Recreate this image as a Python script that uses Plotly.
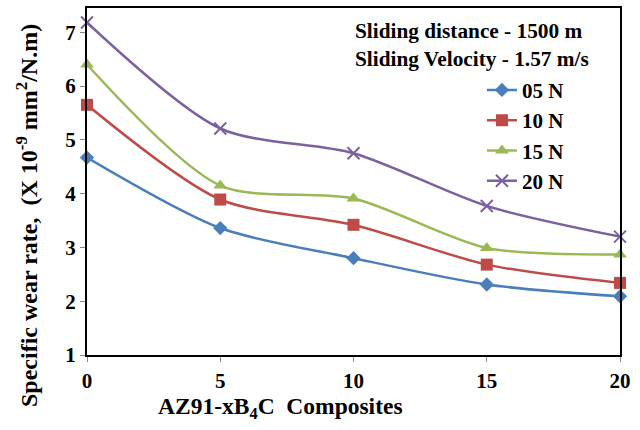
import plotly.graph_objects as go

composites = [0, 5, 10, 15, 20]
load_05N = [4.67, 3.36, 2.80, 2.31, 2.09]
load_10N = [5.65, 3.89, 3.42, 2.68, 2.34]
load_15N = [6.40, 4.15, 3.91, 2.99, 2.87]
load_20N = [7.18, 5.21, 4.75, 3.77, 3.20]
series_names = ["05 N", "10 N", "15 N", "20 N"]
y_ticks = [1, 2, 3, 4, 5, 6, 7]
x_ticks = [0, 5, 10, 15, 20]

colors = ["#4A7EBB", "#BE4B48", "#98B954", "#7D60A0"]
symbols = ["diamond", "square", "triangle-up", "x-thin-open"]
sizes = [11, 12, 12, 12]

FF = "Liberation Serif"

fig = go.Figure()
for i, (name, vals) in enumerate(zip(series_names, [load_05N, load_10N, load_15N, load_20N])):
    fig.add_trace(go.Scatter(
        x=composites, y=vals, name=name, mode="lines+markers",
        line=dict(color=colors[i], width=2.5, shape="spline", smoothing=0.8),
        marker=dict(symbol=symbols[i], size=sizes[i], color=colors[i],
                    line=dict(color=colors[i], width=2 if i == 3 else 0)),
        cliponaxis=False, legendgroup=name,
    ))

tickfont = dict(size=21, family=FF, weight="bold", color="black")
fig.update_layout(
    width=640, height=430,
    margin=dict(l=87, r=20, t=8, b=75, autoexpand=False),
    paper_bgcolor="white", plot_bgcolor="white",
    font=dict(family=FF, size=20, color="black"),
    showlegend=True,
    legend=dict(x=0.741, y=0.822, xanchor="left", yanchor="top",
                bgcolor="rgba(0,0,0,0)", font=dict(size=21, family=FF, weight="bold"),
                traceorder="grouped", tracegroupgap=0, itemwidth=30),
    xaxis=dict(range=[0, 20], tickvals=x_ticks, showgrid=False, zeroline=False,
               showline=True, linecolor="black", linewidth=2, mirror=True,
               ticks="outside", ticklen=5, tickcolor="#888888", automargin=False,
               ticklabelstandoff=1, tickfont=tickfont),
    yaxis=dict(range=[1, 7.45], tickvals=y_ticks, showgrid=False, zeroline=False,
               showline=True, linecolor="black", linewidth=2, mirror=True,
               ticks="outside", ticklen=5, tickcolor="#888888", automargin=False,
               tickfont=tickfont),
)

fig.add_annotation(x=(280 - 87) / 533, y=-(408 - 355) / 347, xref="paper", yref="paper",
                   xanchor="center", yanchor="middle", showarrow=False,
                   text="AZ91-xB<sub>4</sub>C  Composites",
                   font=dict(size=23.5, family=FF, weight="bold"))
fig.add_annotation(x=(27 - 87) / 533, y=(355 - 216) / 347, xref="paper", yref="paper",
                   xanchor="center", yanchor="middle", showarrow=False, textangle=-90,
                   text="Specific wear rate,  (X 10<sup>-9</sup> mm<sup>2</sup>/N.m)",
                   font=dict(size=24, family=FF, weight="bold"))

fig.add_annotation(x=(353 - 87) / 533, y=(355 - 17) / 347, xref="paper", yref="paper",
                   xanchor="left", yanchor="top", align="left", showarrow=False,
                   text="Sliding distance - 1500 m<br>Sliding Velocity - 1.57 m/s",
                   font=dict(size=21.3, family=FF, weight="bold"))

fig.write_html("out.html", config={"displayModeBar": False},
               post_script="document.body.style.margin='0';")
